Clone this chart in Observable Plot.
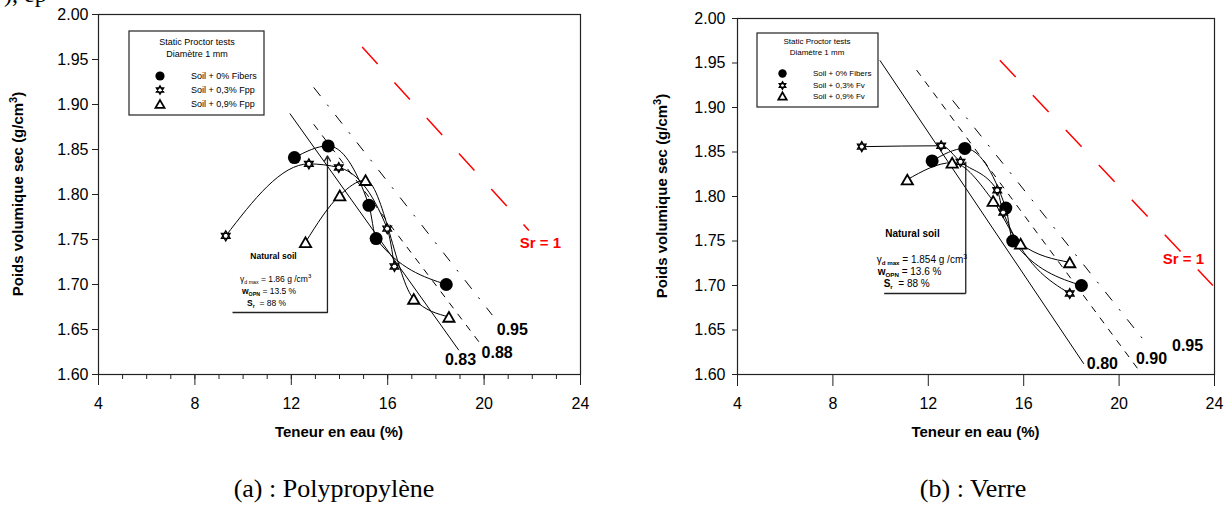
<!DOCTYPE html>
<html><head><meta charset="utf-8">
<script src="https://cdn.jsdelivr.net/npm/d3@7"></script>
<script src="https://cdn.jsdelivr.net/npm/@observablehq/plot@0.6"></script>
<style>
body{margin:0;background:#fff;}
#root{position:relative;width:1224px;height:505px;overflow:hidden;background:#fff;}
.panel{position:absolute;top:0;}
.caption{position:absolute;top:474px;font-family:"Liberation Serif","Times New Roman",serif;font-size:26px;white-space:nowrap;transform:translateX(-50%);color:#000;}
</style></head><body><div id="root"></div>
<script>
// ---------- shared ticks ----------
const xMajorTicks = [4, 8, 12, 16, 20, 24];
const xMinorTicks = [4,5,6,7,8,9,10,11,12,13,14,15,16,17,18,19,20,21,22,23,24];
const yTicks = [1.60, 1.65, 1.70, 1.75, 1.80, 1.85, 1.90, 1.95, 2.00];

// ---------- panel (a) : Polypropylène ----------
const aFibersW = [12.13, 13.53, 15.22, 15.52, 18.43];
const aFibersG = [1.841, 1.854, 1.788, 1.751, 1.700];
const aF03W = [9.28, 12.73, 13.97, 15.98, 16.28];
const aF03G = [1.754, 1.834, 1.830, 1.762, 1.720];
const aF09W = [12.59, 14.01, 15.08, 17.08, 18.54];
const aF09G = [1.747, 1.799, 1.816, 1.684, 1.664];
const aLegend = ["Soil + 0% Fibers", "Soil + 0,3% Fpp", "Soil + 0,9% Fpp"];
const aSatLabels = ["0.83", "0.88", "0.95", "Sr = 1"];
const aSatW1 = [11.94, 12.93, 12.93, 14.94];
const aSatG1 = [1.890, 1.878, 1.919, 1.964];
const aSatW2 = [18.95, 19.85, 20.34, 21.86];
const aSatG2 = [1.627, 1.634, 1.666, 1.760];
const aSatLabelW = [19.02, 20.54, 21.17, 22.34];
const aSatLabelG = [1.616, 1.624, 1.650, 1.746];
const aNote = ["Natural soil", "1.86", "13.5", "88"];
const aNoteBox = [9.56, 13.5, 1.843, 1.669]; // left w, wOPN, top g, bottom g

// ---------- panel (b) : Verre ----------
const bFibersW = [12.16, 13.53, 15.25, 15.54, 18.42];
const bFibersG = [1.840, 1.854, 1.787, 1.750, 1.700];
const bF03W = [9.21, 12.54, 13.35, 14.89, 15.14, 17.93];
const bF03G = [1.856, 1.857, 1.839, 1.807, 1.782, 1.691];
const bF09W = [11.12, 13.00, 14.72, 15.87, 17.93];
const bF09G = [1.819, 1.838, 1.795, 1.747, 1.726];
const bLegend = ["Soil + 0% Fibers", "Soil + 0,3% Fv", "Soil + 0,9% Fv"];
const bSatLabels = ["0.80", "0.90", "0.95", "Sr = 1"];
const bSatW1 = [9.97, 11.51, 13.02, 15.00];
const bSatG1 = [1.953, 1.942, 1.908, 1.953];
const bSatW2 = [18.52, 20.85, 21.17, 23.93];
const bSatG2 = [1.612, 1.604, 1.634, 1.700];
const bSatLabelW = [19.30, 21.36, 22.87, 22.70];
const bSatLabelG = [1.612, 1.617, 1.632, 1.730];
const bNote = ["Natural soil", "1.854", "13.6", "88"];
const bNoteBox = [10.15, 13.57, 1.839, 1.691];

const legendTitle = ["Static Proctor tests", "Diamètre 1 mm"];
const captions = ["(a) : Polypropylène", "(b) : Verre"];

// ---------- symbols ----------
const FONT = '"Liberation Sans", Arial, sans-serif';
const hexagram = {draw(ctx, size){const r=Math.sqrt(size/Math.PI), a=0.8660254*r, b=0.5*r;
  ctx.moveTo(0,-r); ctx.lineTo(a,b); ctx.lineTo(-a,b); ctx.closePath();
  ctx.moveTo(0,r); ctx.lineTo(-a,-b); ctx.lineTo(a,-b); ctx.closePath();}};
const triangle = {draw(ctx, size){const r=Math.sqrt(size/Math.PI), a=0.8660254*r, h=0.75*r;
  ctx.moveTo(0,-h); ctx.lineTo(a,h); ctx.lineTo(-a,h); ctx.closePath();}};
const symStyles = [
  {symbol:"circle", fill:"black", stroke:"none", strokeWidth:0},
  {symbol:hexagram, fill:"white", stroke:"black", strokeWidth:1.3},
  {symbol:triangle, fill:"white", stroke:"black", strokeWidth:1.8}
];
const satStyles = [
  {stroke:"black", dash:null, width:1},
  {stroke:"black", dash:"7,7", width:1},
  {stroke:"black", dash:"11,11,2,11", width:1},
  {stroke:"#ff0000", dash:"23,25", width:1.5}
];

function makePanel(cfg) {
  const series = cfg.series.map((s) => s.w.map((w, i) => ({w, g: s.g[i]})));
  const sat = cfg.satLabels.map((lab, i) => ({lab, x1: cfg.satW1[i], y1: cfg.satG1[i], x2: cfg.satW2[i], y2: cfg.satG2[i], lx: cfg.satLabelW[i], ly: cfg.satLabelG[i]}));
  const [nL, nW, nT, nB] = cfg.noteBox;
  const marks = [];
  if (cfg.minor) marks.push(Plot.axisX(xMinorTicks, {tickSize: 5, tickFormat: () => "", label: null, stroke: "#222"}));
  marks.push(Plot.axisX(xMajorTicks, {tickSize: cfg.majorTick, tickPadding: cfg.xPad, fontSize: 16, tickFormat: (d) => String(d), label: null, stroke: "#222"}));
  marks.push(Plot.axisY(yTicks, {tickSize: cfg.yTick, tickPadding: cfg.yPad, fontSize: 16, tickFormat: d3.format(".2f"), label: null, stroke: "#222"}));
  sat.forEach((d, i) => {
    const st = satStyles[i];
    marks.push(Plot.link([d], {x1: "x1", y1: "y1", x2: "x2", y2: "y2", stroke: st.stroke, strokeWidth: st.width, strokeDasharray: st.dash || undefined}));
  });
  marks.push(Plot.text(sat.slice(0, 3), {x: "lx", y: "ly", text: "lab", fontSize: 16, fontWeight: "bold", fill: "black"}));
  marks.push(Plot.text(sat.slice(3), {x: "lx", y: "ly", text: "lab", fontSize: 15, fontWeight: "bold", fill: "#ff0000"}));
  // annotation box (right and bottom edges)
  if (cfg.arrow) marks.push(Plot.arrow([{x1: nW, y1: nB, x2: nW, y2: nT}], {x1: "x1", y1: "y1", x2: "x2", y2: "y2", stroke: "#222", strokeWidth: 1.3, headLength: 7}));
  else marks.push(Plot.link([{x1: nW, y1: nB, x2: nW, y2: nT}], {x1: "x1", y1: "y1", x2: "x2", y2: "y2", stroke: "#222", strokeWidth: 1.3}));
  marks.push(Plot.link([{x1: nL, y1: nB, x2: nW, y2: nB}], {x1: "x1", y1: "y1", x2: "x2", y2: "y2", stroke: "#222", strokeWidth: 1.5}));
  // fitted curves
  series.forEach((rows) => marks.push(Plot.line(rows, {x: "w", y: "g", curve: "monotone-x", stroke: "black", strokeWidth: 1})));
  // points
  series.forEach((rows, i) => {
    const s = symStyles[i];
    marks.push(Plot.dot(rows, {x: "w", y: "g", r: cfg.r[i], symbol: s.symbol, fill: s.fill, stroke: s.stroke, strokeWidth: s.strokeWidth}));
  });
  marks.push(Plot.frame({stroke: "#222", strokeWidth: 1.2}));

  const svg = Plot.plot({
    width: 612, height: 445,
    marginLeft: cfg.ml, marginRight: cfg.mr, marginTop: cfg.mt, marginBottom: 71,
    x: {domain: [4, 24]}, y: {domain: [1.6, 2.0]},
    style: {fontFamily: FONT, color: "black", background: "white", overflow: "visible"},
    marks
  });
  const sx = svg.scale("x"), sy = svg.scale("y");
  const g = d3.select(svg).append("g").attr("font-family", FONT).attr("fill", "black").attr("text-anchor", "start");
  const fx0 = cfg.ml, fx1 = 612 - cfg.mr, fy0 = cfg.mt, fy1 = 445 - 71;
  // axis titles
  g.append("text").attr("x", (fx0 + fx1) / 2).attr("y", 437).attr("text-anchor", "middle")
    .attr("font-size", 15).attr("font-weight", "bold").text("Teneur en eau (%)");
  const yt = g.append("text").attr("transform", `translate(${cfg.ytx},${(fy0 + fy1) / 2}) rotate(-90)`)
    .attr("text-anchor", "middle").attr("font-size", 15).attr("font-weight", "bold");
  yt.append("tspan").text("Poids volumique sec (g/cm");
  yt.append("tspan").attr("dy", -6).attr("font-size", 11).text("3");
  yt.append("tspan").attr("dy", 6).text(")");
  // legend box
  const L = cfg.legend;
  const lg = g.append("g").attr("transform", `translate(${fx0 + L.x},${fy0 + L.y})`);
  lg.append("rect").attr("width", L.w).attr("height", L.h).attr("fill", "white").attr("stroke", "#222").attr("stroke-width", 1.2);
  lg.append("text").attr("x", L.tcx).attr("y", L.t1).attr("text-anchor", "middle").attr("font-size", L.fs).text(legendTitle[0]);
  lg.append("text").attr("x", L.tcx).attr("y", L.t2).attr("text-anchor", "middle").attr("font-size", L.fs).text(legendTitle[1]);
  cfg.legendLabels.forEach((lab, i) => {
    const s = symStyles[i];
    const type = s.symbol === "circle" ? d3.symbolCircle : s.symbol;
    lg.append("path").attr("transform", `translate(${L.sx},${L.rows[i]})`)
      .attr("d", d3.symbol(type, L.r[i] * L.r[i] * Math.PI)())
      .attr("fill", s.fill).attr("stroke", s.stroke === "none" ? null : s.stroke).attr("stroke-width", s.strokeWidth);
    lg.append("text").attr("x", L.tx).attr("y", L.rows[i] + L.fs * 0.35).attr("text-anchor", "start").attr("font-size", L.fs).text(lab);
  });
  // natural soil note
  const N = cfg.noteStyle;
  const bx0 = sx.apply(nL), bx1 = sx.apply(nW), by = sy.apply(nB);
  const fs = N.fs;
  g.append("text").attr("x", (bx0 + bx1) / 2 + N.titleDx).attr("y", by - N.titleDy).attr("text-anchor", "middle")
    .attr("font-size", fs).attr("font-weight", "bold").text(cfg.note[0]);
  const t1 = g.append("text").attr("x", bx0 + N.l1).attr("y", by - 30).attr("text-anchor", "start").attr("font-size", fs);
  t1.append("tspan").text("γ");
  t1.append("tspan").attr("dy", 2).attr("font-size", fs * 0.62).attr("font-weight", N.subBold ? "bold" : null).text("d max");
  t1.append("tspan").attr("dy", -2).text(` = ${cfg.note[1]} g /cm`);
  t1.append("tspan").attr("dy", -4).attr("font-size", fs * 0.7).text("3");
  const t2 = g.append("text").attr("x", bx0 + N.l2).attr("y", by - 18).attr("text-anchor", "start").attr("font-size", fs);
  t2.append("tspan").attr("font-weight", "bold").text("w");
  t2.append("tspan").attr("dy", 2).attr("font-size", fs * 0.62).attr("font-weight", "bold").text("OPN");
  t2.append("tspan").attr("dy", -2).text(` = ${cfg.note[2]} %`);
  const t3 = g.append("text").attr("x", bx0 + N.l3).attr("y", by - 6).attr("text-anchor", "start").attr("font-size", fs).attr("xml:space", "preserve");
  t3.append("tspan").attr("font-weight", "bold").text("S");
  t3.append("tspan").attr("dy", 2).attr("font-size", fs * 0.62).attr("font-weight", "bold").text("r");
  t3.append("tspan").attr("dy", -2).text(`  = ${cfg.note[3]} %`);
  return svg;
}

const root = document.getElementById("root");

const panelA = makePanel({
  series: [{w: aFibersW, g: aFibersG}, {w: aF03W, g: aF03G}, {w: aF09W, g: aF09G}],
  satLabels: aSatLabels, satW1: aSatW1, satG1: aSatG1, satW2: aSatW2, satG2: aSatG2, satLabelW: aSatLabelW, satLabelG: aSatLabelG,
  note: aNote, noteBox: aNoteBox, legendLabels: aLegend,
  minor: true, majorTick: 11, xPad: 12, yTick: 6, yPad: 4, ml: 98, mr: 32, mt: 14, ytx: 23, arrow: true,
  r: [6.5, 5, 6.5],
  legend: {x: 31, y: 17, w: 135, h: 84, tcx: 68, t1: 14, t2: 25.5, fs: 9, sx: 31, tx: 62, rows: [45, 59, 73], r: [4.6, 4.2, 5.2]},
  noteStyle: {fs: 8.5, titleDx: -6, titleDy: 53, l1: 8, l2: 10, l3: 15, subBold: false}
});
panelA.classList.add("panel"); panelA.style.left = "0px";
root.appendChild(panelA);

const panelB = makePanel({
  series: [{w: bFibersW, g: bFibersG}, {w: bF03W, g: bF03G}, {w: bF09W, g: bF09G}],
  satLabels: bSatLabels, satW1: bSatW1, satG1: bSatG1, satW2: bSatW2, satG2: bSatG2, satLabelW: bSatLabelW, satLabelG: bSatLabelG,
  note: bNote, noteBox: bNoteBox, legendLabels: bLegend,
  minor: false, majorTick: 12, xPad: 11, yTick: 5, yPad: 7, ml: 125, mr: 10, mt: 18, ytx: 55, arrow: false,
  r: [6.5, 5, 6.5],
  legend: {x: 20, y: 15, w: 121, h: 74, tcx: 60, t1: 11, t2: 22, fs: 8, sx: 25.5, tx: 56, rows: [40.5, 52.5, 63], r: [4.2, 3.8, 4.8]},
  noteStyle: {fs: 10, titleDx: -12, titleDy: 56, l1: -7, l2: -6, l3: 0, subBold: true}
});
panelB.classList.add("panel"); panelB.style.left = "612px";
root.appendChild(panelB);

// cut-off text at the very top (remnant of the preceding line, as in the reference)
d3.select(panelA).append("text").attr("x", 4).attr("y", 2).attr("text-anchor", "start").attr("font-family", '"Liberation Serif", serif').attr("font-size", 24).text("), ep");

const capA = document.createElement("div"); capA.className = "caption"; capA.style.left = "334px"; capA.textContent = captions[0]; root.appendChild(capA);
const capB = document.createElement("div"); capB.className = "caption"; capB.style.left = "973px"; capB.textContent = captions[1]; root.appendChild(capB);
</script></body></html>
